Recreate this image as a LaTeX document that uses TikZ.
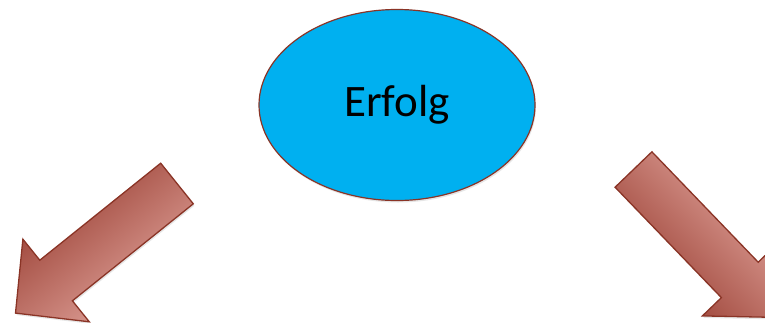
\documentclass[tikz,border=0pt]{standalone}
\usepackage{fontspec}
\setmainfont{Carlito}
\usetikzlibrary{shapes.geometric,shadows}
\definecolor{ellfill}{RGB}{0,176,240}
\definecolor{redline}{RGB}{138,52,38}
\definecolor{arrdark}{RGB}{150,58,46}
\definecolor{arrlight}{RGB}{228,168,160}
\tikzset{
  bubble/.style={ellipse, draw=redline, line width=1.2pt, fill=ellfill,
    minimum width=276pt, minimum height=191pt, inner sep=0pt,
    font=\fontsize{45}{54}\selectfont,
    drop shadow={opacity=0.2, shadow xshift=1pt, shadow yshift=-2pt}},
  bigarrow/.style={draw=redline, line width=1.3pt, line join=miter,
    drop shadow={opacity=0.2, shadow xshift=1pt, shadow yshift=-2pt}}
}
\begin{document}
\begin{tikzpicture}[x=1pt,y=-1pt]
\useasboundingbox (0,0) rectangle (765,322);
\clip (0,0) rectangle (765,322);
\node[bubble] (erfolg) at (397,105) {Erfolg};
% left arrow
\path[bigarrow, left color=arrdark, right color=arrlight, shading angle=39]
  (193.3,203.8) -- (160.7,163.2) -- (39.8,260.2) -- (22.9,239.2)
  -- (15.5,313.1) -- (89.3,321.8) -- (72.4,300.8) -- cycle;
% right arrow
\path[bigarrow, left color=arrdark, right color=arrlight, shading angle=134]
  (651.9,151.8) -- (615.1,187.2) -- (721.4,297.6) -- (702.4,315.9)
  -- (776.9,317.4) -- (777.2,243.9) -- (758.2,262.2) -- cycle;
\end{tikzpicture}
\end{document}
